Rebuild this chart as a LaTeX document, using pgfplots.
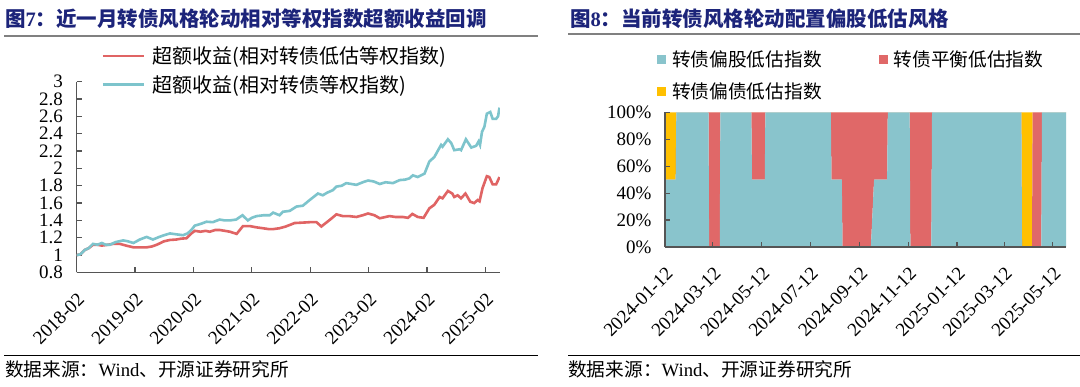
\documentclass[border=0pt]{standalone}
\usepackage{pgfplots}
\pgfplotsset{compat=1.18}
\usepackage{pgfplotstable}
\usepackage{fontspec}
\setmainfont{Liberation Serif}
\newfontfamily\cjk{Noto Sans CJK SC}
\definecolor{ttl}{RGB}{28,36,122}
\definecolor{tealL}{RGB}{125,196,204}
\definecolor{redL}{RGB}{224,100,100}
\definecolor{tealA}{RGB}{137,196,204}
\definecolor{redA}{RGB}{224,104,104}
\definecolor{yelA}{RGB}{255,192,0}
\definecolor{axc}{RGB}{85,85,85}

\pgfplotstableread{
m v
0 1.00
0.8 1.01
1.7 1.06
2.5 1.08
3.4 1.13
4.3 1.12
5.2 1.14
6.0 1.12
6.9 1.12
8.0 1.15
9.6 1.17
10.5 1.16
11.7 1.14
13.0 1.18
14.4 1.21
15.7 1.18
17.0 1.21
18.0 1.23
19.2 1.25
20.5 1.24
21.9 1.23
22.8 1.25
23.6 1.29
24.3 1.34
25.5 1.36
26.7 1.385
28.0 1.38
29.4 1.41
30.5 1.40
31.5 1.40
32.8 1.41
34.1 1.46
35.2 1.40
36.0 1.43
37.0 1.45
38.5 1.46
39.7 1.46
40.4 1.49
41.7 1.46
42.4 1.50
43.8 1.51
45.2 1.56
46.5 1.57
47.9 1.635
49.6 1.71
50.6 1.69
51.5 1.72
52.7 1.75
53.4 1.79
54.5 1.80
55.4 1.83
56.5 1.82
57.5 1.81
58.8 1.84
59.9 1.86
61.0 1.85
62.3 1.82
63.5 1.84
65.0 1.83
66.4 1.865
67.5 1.87
68.4 1.885
69.1 1.92
70.1 1.90
71.5 1.94
72.5 2.08
73.5 2.13
74.2 2.20
74.9 2.27
75.2 2.25
76.3 2.335
77.0 2.29
77.6 2.21
78.7 2.22
79.0 2.21
80.0 2.335
81.1 2.24
82.1 2.26
82.6 2.31
82.9 2.27
83.3 2.42
83.8 2.48
84.3 2.63
85.0 2.65
85.5 2.57
86.2 2.57
86.6 2.60
86.9 2.70
}\tealdata

\pgfplotstableread{
m v
0 1.00
0.8 1.01
1.7 1.06
2.5 1.08
3.4 1.12
4.3 1.12
5.2 1.11
6.5 1.12
7.5 1.13
8.9 1.13
10.2 1.11
11.7 1.09
13.0 1.09
14.4 1.09
15.5 1.10
16.5 1.12
18.0 1.16
19.2 1.175
20.5 1.18
21.5 1.19
22.6 1.195
23.6 1.25
24.3 1.28
25.5 1.27
26.5 1.28
27.4 1.27
28.5 1.29
29.4 1.29
30.5 1.28
31.5 1.27
32.9 1.245
34.2 1.335
35.6 1.335
37.0 1.32
38.3 1.31
39.5 1.30
40.4 1.30
41.7 1.31
43.0 1.33
44.8 1.37
46.5 1.375
48.0 1.38
49.3 1.38
50.3 1.33
51.2 1.37
52.0 1.405
53.4 1.47
54.7 1.45
56.0 1.45
57.5 1.44
58.8 1.46
59.9 1.48
61.2 1.46
62.3 1.425
63.5 1.44
64.3 1.45
65.5 1.44
67.0 1.44
68.1 1.43
69.0 1.475
70.1 1.44
71.3 1.43
72.5 1.54
73.5 1.58
74.6 1.67
75.2 1.655
76.3 1.74
77.2 1.71
77.6 1.67
78.3 1.69
79.0 1.655
79.9 1.71
80.9 1.615
81.7 1.60
82.4 1.635
82.8 1.62
83.4 1.77
84.3 1.91
84.8 1.90
85.5 1.815
86.2 1.815
86.9 1.90
}\reddata

\pgfplotstableread{
x teal red yel
0 50 0 50
13.4 50 0 50
14.2 100 0 0
54.5 100 0 0
55.3 0 100 0
68.6 0 100 0
69.4 100 0 0
108.2 100 0 0
109 50 50 0
125 50 50 0
125.8 100 0 0
207.8 100 0 0
208.6 50 50 0
221.6 50 50 0
222.4 0 100 0
258 0 100 0
262 50 50 0
278.4 50 50 0
279.2 100 0 0
306.6 100 0 0
307.4 0 100 0
333.8 0 100 0
334.6 100 0 0
446.6 100 0 0
447.4 0 0 100
459.9 0 0 100
460.7 0 100 0
471.6 0 100 0
472.4 100 0 0
502.5 100 0 0
}\areadata

\pgfplotsset{
  common/.style={
    scale only axis,
    anchor=south west,
    axis x line*=bottom,
    axis y line*=left,
    axis line style={draw=axc, line width=1.2pt, -},
    major tick style={draw=axc, line width=1.2pt},
    major tick length=5pt,
    tick align=inside,
    /pgf/number format/assume math mode=true,
    ticklabel style={font=\fontsize{19}{19}\selectfont, text=black},
    yticklabel style={xshift=-10pt},
    xticklabel style={yshift=-19pt, rotate=45, anchor=north east, inner sep=0pt},
  }
}

\begin{document}
\begin{tikzpicture}
\useasboundingbox (0,0) rectangle (1080pt,386pt);
\fill[white] (0,0) rectangle (1080pt,386pt);

% titles and rules
\node[anchor=west, inner sep=0pt, text=ttl, font=\fontsize{20.5}{20.5}\selectfont] at (5pt,367pt)
  {\cjk\bfseries 图{\rmfamily\bfseries 7}：近一月转债风格轮动相对等权指数超额收益回调};
\node[anchor=west, inner sep=0pt, text=ttl, font=\fontsize{20.5}{20.5}\selectfont] at (570pt,367pt)
  {\cjk\bfseries 图{\rmfamily\bfseries 8}：当前转债风格轮动配置偏股低估风格};
\draw[line width=2pt, black!50] (4pt,349.5pt) -- (538pt,349.5pt);
\draw[line width=2pt, black!50] (568pt,351.5pt) -- (1080pt,351.5pt);
\draw[line width=1.2pt, black] (4pt,30.3pt) -- (538pt,30.3pt);
\draw[line width=1.2pt, black] (568pt,30.3pt) -- (1080pt,30.3pt);
\node[anchor=west, inner sep=0pt, font=\fontsize{18.7}{18.7}\selectfont] at (5pt,16.5pt)
  {{\cjk 数据来源：}Wind{\cjk 、开源证券研究所}};
\node[anchor=west, inner sep=0pt, font=\fontsize{18.7}{18.7}\selectfont] at (568pt,16.5pt)
  {{\cjk 数据来源：}Wind{\cjk 、开源证券研究所}};

% left chart
\begin{axis}[common,
  at={(76.5pt,113.5pt)}, width=423.5pt, height=190.9pt,
  xmin=0, xmax=87, ymin=0.8, ymax=3,
  xtick={0,12,24,36,48,60,72,84},
  xticklabels={2018-02,2019-02,2020-02,2021-02,2022-02,2023-02,2024-02,2025-02},
  ytick={0.8,1,1.2,1.4,1.6,1.8,2,2.2,2.4,2.6,2.8,3},
  legend style={draw=none, fill=none, at={(0.059,1.194)}, anchor=north west,
    font=\fontsize{20}{20}\selectfont, inner sep=0pt, row sep=6pt, column sep=5pt,
    cells={anchor=west}},
  legend image code/.code={\draw[#1] (0pt,0pt) -- (41pt,0pt);},
]
\addplot[redL, line width=2.6pt, mark=none] table[x=m,y=v]{\reddata};
\addlegendentry{\cjk 超额收益(相对转债低估等权指数)}
\addplot[tealL, line width=2.6pt, mark=none] table[x=m,y=v]{\tealdata};
\addlegendentry{\cjk 超额收益(相对转债等权指数)}
\end{axis}

% right chart
\begin{axis}[common,
  at={(665pt,139pt)}, width=401pt, height=134.7pt,
  xmin=0, xmax=502.5, ymin=0, ymax=100,
  stack plots=y, axis on top,
  xtick={0,60,121,182,244,305,366,425,486},
  xticklabels={2024-01-12,2024-03-12,2024-05-12,2024-07-12,2024-09-12,2024-11-12,2025-01-12,2025-03-12,2025-05-12},
  ytick={0,20,40,60,80,100},
  yticklabels={0\%,20\%,40\%,60\%,80\%,100\%},
  legend columns=2,
  legend style={draw=none, fill=none, at={(-0.02,1.47)}, anchor=north west,
    font=\fontsize{18.7}{18.7}\selectfont, inner sep=0pt, row sep=10pt, column sep=4pt,
    /tikz/every even column/.append style={column sep=55pt},
    cells={anchor=west}},
  legend image code/.code={\fill[#1] (0pt,-4.5pt) rectangle (9pt,4.5pt);},
]
\addplot[fill=tealA, draw=none, mark=none] table[x=x,y=teal]{\areadata} \closedcycle;
\addlegendentry{\cjk 转债偏股低估指数}
\addplot[fill=redA, draw=none, mark=none] table[x=x,y=red]{\areadata} \closedcycle;
\addlegendentry{\cjk 转债平衡低估指数}
\addplot[fill=yelA, draw=none, mark=none] table[x=x,y=yel]{\areadata} \closedcycle;
\addlegendentry{\cjk 转债偏债低估指数}
\end{axis}
\end{tikzpicture}
\end{document}
